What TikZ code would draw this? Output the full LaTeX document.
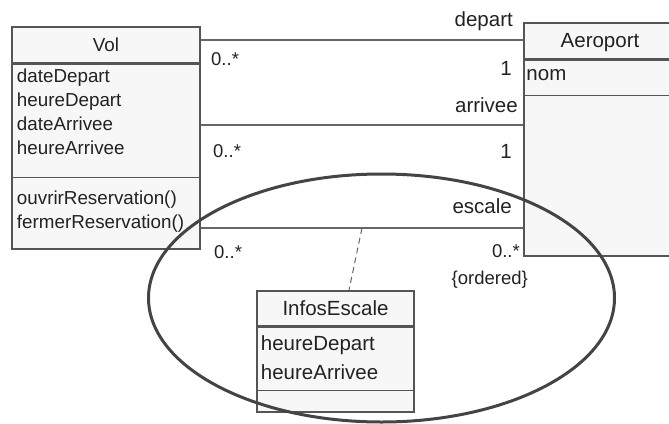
\documentclass[tikz,border=0pt]{standalone}
\usepackage{fontspec}
\setmainfont{Liberation Sans}
\usetikzlibrary{positioning}
\definecolor{umlline}{HTML}{555555}
\definecolor{umlfill}{HTML}{F7F7F7}
\definecolor{umltext}{HTML}{222222}
\definecolor{assocline}{HTML}{666666}
\definecolor{ringline}{HTML}{444444}
\newcommand\volfont{\fontsize{18.8}{24}\selectfont}
\newcommand\umlfont{\fontsize{20.5}{29}\selectfont}
\newcommand\multfont{\fontsize{18.5}{20}\selectfont}
\newcommand\notefont{\fontsize{18.5}{20}\selectfont}

\begin{document}
\begin{tikzpicture}
 [x=1pt, y=-1pt, every node/.style={text=umltext},
  class box/.style={rectangle, draw=umlline, line width=2pt, fill=umlfill, inner sep=0pt},
  part box/.style={rectangle, draw=umlline, line width=1.5pt, inner sep=0pt},
  member list/.style={align=left, inner xsep=5.5pt, inner ysep=0pt, anchor=north west},
  assoc/.style={draw=assocline, line width=1.4pt},
  link/.style={draw=assocline, line width=1pt, dash pattern=on 6pt off 4pt},
  ring/.style={draw=ringline, line width=3pt},
  label text/.style={inner sep=0pt, font=\umlfont}]

\useasboundingbox (0,0) rectangle (669,423);

% Vol
\node[class box, minimum width=188pt, minimum height=222pt] (vol) at (106,138) {};
\node[part box, minimum width=188pt, minimum height=36pt, anchor=north, font=\volfont, text depth=0pt] (vol title) at (vol.north) {Vol};
\node[part box, minimum width=188pt, minimum height=113pt, below=0pt of vol title] (vol attrs) {};
\node[member list, font=\volfont, yshift=-5pt] (vol attr list) at (vol attrs.north west) {dateDepart\\heureDepart\\dateArrivee\\heureArrivee};
\node[member list, font=\volfont, yshift=-13pt] (vol op list) at (vol attrs.south west) {ouvrirReservation()\\fermerReservation()};

% Aeroport
\node[class box, minimum width=152pt, minimum height=233pt] (aeroport) at (600,139.5) {};
\node[part box, minimum width=152pt, minimum height=36pt, anchor=north, font=\umlfont, text depth=0pt] (aeroport title) at (aeroport.north) {Aeroport};
\node[part box, minimum width=152pt, minimum height=35pt, below=0pt of aeroport title] (aeroport attrs) {};
\node[member list, font=\umlfont, yshift=-10pt, inner xsep=3pt] (aeroport attr list) at (aeroport attrs.north west) {nom};

% InfosEscale
\node[class box, minimum width=157pt, minimum height=121pt] (infos) at (335.5,351.5) {};
\node[part box, minimum width=157pt, minimum height=35pt, anchor=north, font=\umlfont, text depth=0pt] (infos title) at (infos.north) {InfosEscale};
\node[part box, minimum width=157pt, minimum height=63pt, below=0pt of infos title] (infos attrs) {};
\node[member list, font=\umlfont, yshift=-9pt, inner xsep=4.5pt] (infos attr list) at (infos attrs.north west) {heureDepart\\heureArrivee};

% associations
\coordinate (depart level) at (0,40);
\coordinate (arrivee level) at (0,125);
\coordinate (escale level) at (0,228);
\draw[assoc] (vol.east |- depart level) -- (aeroport.west |- depart level);
\draw[assoc] (vol.east |- arrivee level) -- (aeroport.west |- arrivee level);
\draw[assoc] (vol.east |- escale level) -- (aeroport.west |- escale level);

\node[label text, anchor=base east] (depart role) at (513,27) {depart};
\node[label text, anchor=base east] (depart aero mult) at (512,75) {1};
\node[label text, anchor=base west, font=\multfont] (depart vol mult) at (211,65) {0..*};
\node[label text, anchor=base east] (arrivee role) at (518,112) {arrivee};
\node[label text, anchor=base east] (arrivee aero mult) at (512,158) {1};
\node[label text, anchor=base west, font=\multfont] (arrivee vol mult) at (213,157) {0..*};
\node[label text, anchor=base east] (escale role) at (512,213) {escale};
\node[label text, anchor=base east, font=\multfont] (escale aero mult) at (520,257) {0..*};
\node[label text, anchor=base west, font=\multfont] (escale vol mult) at (214,258) {0..*};
\node[label text, anchor=base east, font=\notefont] (escale order) at (528,284) {\{ordered\}};

% association class link
\coordinate (escale link) at (362,228);
\draw[link] (escale link) -- ([xshift=13.5pt]infos.north);

% scope ring
\draw[ring] (381.5,298) ellipse [x radius=233pt, y radius=124pt];

\end{tikzpicture}
\end{document}
